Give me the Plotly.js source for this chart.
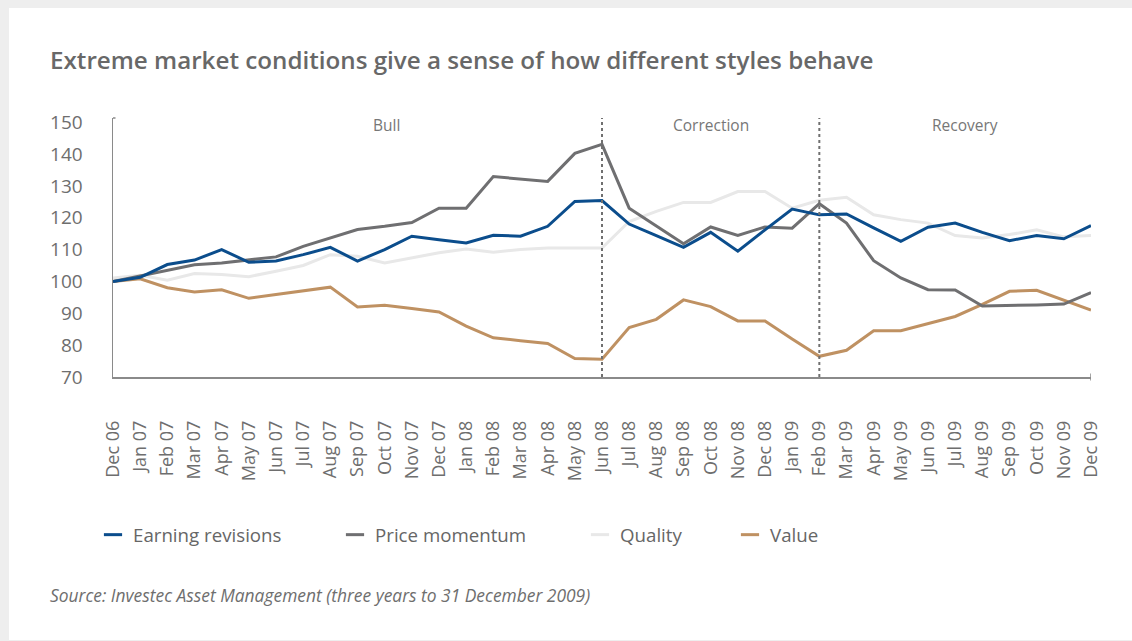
<!DOCTYPE html>
<html>
<head>
<meta charset="utf-8">
<script src="https://cdn.plot.ly/plotly-3.0.1.min.js"></script>
<style>
  html, body { margin: 0; padding: 0; background: #eeeeee; width: 1132px; height: 641px; overflow: hidden; }
  #chart { position: absolute; left: 9px; top: 8px; width: 1123px; height: 632px; background: #ffffff; }
</style>
</head>
<body>
<div id="chart"></div>
<script>
const months = ["Dec 06","Jan 07","Feb 07","Mar 07","Apr 07","May 07","Jun 07","Jul 07","Aug 07","Sep 07","Oct 07","Nov 07","Dec 07",
  "Jan 08","Feb 08","Mar 08","Apr 08","May 08","Jun 08","Jul 08","Aug 08","Sep 08","Oct 08","Nov 08","Dec 08",
  "Jan 09","Feb 09","Mar 09","Apr 09","May 09","Jun 09","Jul 09","Aug 09","Sep 09","Oct 09","Nov 09","Dec 09"];

const earningRevisions = [100, 101.3, 105.3, 106.7, 110, 106, 106.4, 108.4, 110.7, 106.4, 110, 114.2, 113.1,
  112.1, 114.5, 114.2, 117.3, 125.1, 125.4, 118, 114.4, 110.7, 115.4, 109.5, 116.2,
  122.7, 120.9, 121.2, 116.8, 112.6, 117, 118.3, 115.4, 112.8, 114.4, 113.4, 117.5];

const priceMomentum = [100, 101.7, 103.5, 105.2, 105.8, 106.7, 107.7, 111, 113.6, 116.3, 117.3, 118.5, 123,
  123, 132.9, 132.1, 131.4, 140.2, 143, 123, 117.3, 111.8, 117.1, 114.4, 117.1,
  116.7, 124.4, 118.3, 106.5, 101.1, 97.4, 97.3, 92.3, 92.4, 92.6, 92.9, 96.5];

const quality = [101.1, 101.9, 100.4, 102.5, 102.2, 101.5, 103.2, 105, 108.4, 107.9, 105.8, 107.4, 109,
  110.2, 109.2, 110, 110.5, 110.5, 110.5, 118.8, 122, 124.8, 124.8, 128.2, 128.2,
  123, 125.5, 126.4, 120.9, 119.4, 118.3, 114.4, 113.6, 114.7, 116.2, 114, 114.4];

const valueStyle = [100, 100.8, 98, 96.7, 97.4, 94.7, 95.9, 97, 98.2, 92, 92.5, 91.5, 90.4,
  86, 82.3, 81.4, 80.5, 75.8, 75.6, 85.5, 88.1, 94.2, 92.1, 87.6, 87.6,
  81.9, 76.5, 78.4, 84.5, 84.5, 86.8, 89, 92.8, 96.9, 97.2, 94.2, 91];

const yTicks = [70, 80, 90, 100, 110, 120, 130, 140, 150];

const phaseNames = ["Bull", "Correction", "Recovery"];
const phaseBoundaries = ["Jun 08", "Feb 09"];

const seriesNames = ["Earning revisions", "Price momentum", "Quality", "Value"];

const FONT = "Open Sans, Liberation Sans, sans-serif";
const colors = {
  "Earning revisions": "#0b4d8c",
  "Price momentum": "#6f6f71",
  "Quality": "#e8e8e8",
  "Value": "#bf9162"
};
const seriesData = {
  "Earning revisions": earningRevisions,
  "Price momentum": priceMomentum,
  "Quality": quality,
  "Value": valueStyle
};

// drawing order (bottom to top)
const drawOrder = ["Quality", "Value", "Price momentum", "Earning revisions"];
const traces = drawOrder.map(name => ({
  type: "scatter", mode: "lines", name: name,
  x: months, y: seriesData[name],
  line: { color: colors[name], width: 3 },
  showlegend: false, hoverinfo: "x+y+name"
}));

// legend entries: short dash markers, one legend per item
const legendIds = ["legend", "legend2", "legend3", "legend4"];
seriesNames.forEach((name, i) => {
  traces.push({
    type: "scatter", mode: "markers", name: name,
    x: [null], y: [null],
    marker: { symbol: "line-ew", size: 13, color: colors[name], line: { color: colors[name], width: 3 } },
    legend: legendIds[i], showlegend: true
  });
});

const W = 1123, H = 632;
const legendX = [84, 326, 571, 721];
const legendBase = {
  orientation: "h", xref: "container", yref: "container",
  xanchor: "left", yanchor: "middle", y: 1 - 527 / H,
  bgcolor: "rgba(0,0,0,0)", borderwidth: 0,
  font: { family: FONT, size: 18.7, color: "#666666" },
  itemwidth: 30
};
const layout = {
  width: W, height: H,
  paper_bgcolor: "#ffffff", plot_bgcolor: "#ffffff",
  margin: { l: 104, r: 41, t: 110, b: 263, pad: 0 },
  font: { family: FONT, color: "#666666" },
  title: {
    text: "Extreme market conditions give a sense of how different styles behave",
    font: { family: FONT, size: 24.2, color: "#686868", weight: 600 },
    xref: "container", yref: "container", x: 41 / W, xanchor: "left",
    y: 1 - 53 / H, yanchor: "middle"
  },
  xaxis: {
    type: "category", range: [0, months.length - 1],
    tickangle: -90, showgrid: false, zeroline: false,
    showline: true, linecolor: "#8a8a8a", linewidth: 1.5,
    ticks: "", ticklabelstandoff: 35,
    tickfont: { family: FONT, size: 18, color: "#6e6e6e" },
    fixedrange: true
  },
  yaxis: {
    range: [70, 151.3], tickvals: yTicks, ticktext: yTicks.map(String),
    showgrid: false, zeroline: false,
    showline: true, linecolor: "#8a8a8a", linewidth: 1.5,
    ticks: "", ticklabelstandoff: 25,
    tickfont: { family: FONT, size: 19, color: "#6e6e6e" },
    fixedrange: true
  },
  shapes: [],
  annotations: []
};

legendIds.forEach((id, i) => {
  layout[id] = Object.assign({}, legendBase, { x: legendX[i] / W });
});

// phase boundaries
phaseBoundaries.forEach(m => {
  const idx = months.indexOf(m);
  layout.shapes.push({
    type: "line", xref: "x", yref: "paper", x0: idx, x1: idx, y0: 0, y1: 1,
    line: { color: "#707070", width: 2, dash: "dot" }, layer: "above"
  });
});
// axis end caps
layout.shapes.push({
  type: "line", xref: "x", yref: "paper", xsizemode: "pixel", xanchor: 0,
  x0: -2.5, x1: 2.5, y0: 1, y1: 1, line: { color: "#8a8a8a", width: 1.5 }
});
layout.shapes.push({
  type: "line", xref: "x", yref: "paper", ysizemode: "pixel", yanchor: 0,
  x0: months.length - 1, x1: months.length - 1, y0: -3.5, y1: 3.5,
  line: { color: "#8a8a8a", width: 1.5 }
});

// phase labels
const phaseLabelX = [10.05, 22.0, 31.36];
phaseNames.forEach((name, i) => {
  layout.annotations.push({
    text: name, xref: "x", yref: "y", x: phaseLabelX[i], y: 149.2,
    xanchor: "center", yanchor: "middle", showarrow: false,
    font: { family: FONT, size: 15.5, color: "#777777" }
  });
});
// source
layout.annotations.push({
  text: "<i>Source: Investec Asset Management (three years to 31 December 2009)</i>",
  xref: "paper", yref: "paper", x: (39 - 104) / 978, y: (369 - 587) / 259,
  xanchor: "left", yanchor: "middle", showarrow: false,
  font: { family: FONT, size: 17.4, color: "#6e6e6e" }
});

Plotly.newPlot("chart", traces, layout, { displayModeBar: false, staticPlot: true });
</script>
</body>
</html>
